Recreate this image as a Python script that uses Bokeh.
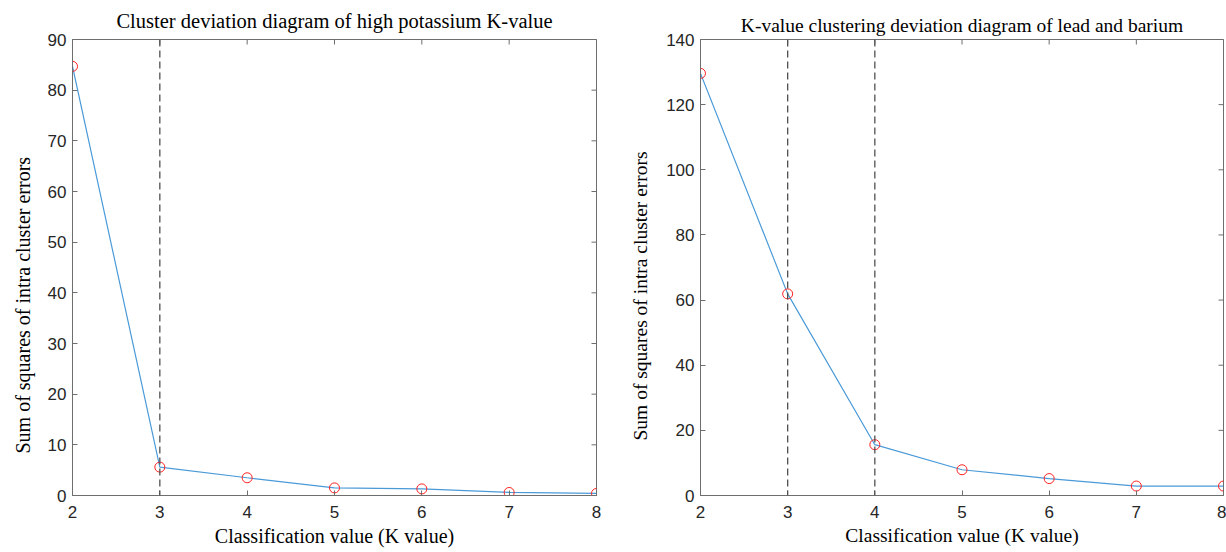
import math
from bokeh.plotting import figure
from bokeh.models import LinearAxis, Span, FixedTicker, Range1d, Title
from bokeh.layouts import row
from bokeh.embed import file_html
from bokeh.resources import INLINE

k_values = [2, 3, 4, 5, 6, 7, 8]
sse_potassium = [84.7, 5.6, 3.5, 1.5, 1.3, 0.6, 0.4]
sse_lead_barium = [129.6, 61.9, 15.6, 7.9, 5.2, 2.9, 2.9]
elbow_potassium = [3]
elbow_lead_barium = [3, 4]
x_ticks = [2, 3, 4, 5, 6, 7, 8]
y_ticks_potassium = [0, 10, 20, 30, 40, 50, 60, 70, 80, 90]
y_ticks_lead_barium = [0, 20, 40, 60, 80, 100, 120, 140]

title_potassium = "Cluster deviation diagram of high potassium K-value"
title_lead_barium = "K-value clustering deviation diagram of lead and barium"
x_label = "Classification value (K value)"
y_label = "Sum of squares of intra cluster errors"

SERIF = "Liberation Serif"
SANS = "Liberation Sans"
AXIS_COLOR = "#6e6e6e"
TEXT_COLOR = "#262626"


def make_panel(title, xs, ys, yticks, elbows, width, b_left, b_right,
               title_size, label_size, title_standoff, ylab_standoff, ylab_offset):
    p = figure(width=width, height=552, x_range=Range1d(x_ticks[0], x_ticks[-1]),
               y_range=Range1d(yticks[0], yticks[-1]),
               output_backend="svg", toolbar_location=None,
               min_border_left=b_left, min_border_right=b_right,
               min_border_top=38, min_border_bottom=57)
    p.xaxis.visible = False
    p.yaxis.visible = False
    p.grid.visible = False
    p.outline_line_color = AXIS_COLOR
    p.outline_line_width = 1
    p.background_fill_color = "white"
    p.border_fill_color = "white"

    p.title.text = title
    p.title.text_font = SERIF
    p.title.text_font_style = "normal"
    p.title.text_font_size = title_size
    p.title.text_color = "black"
    p.title.align = "center"
    p.title.standoff = title_standoff

    def style(ax, ticks):
        ax.ticker = FixedTicker(ticks=ticks)
        ax.axis_line_color = AXIS_COLOR
        ax.major_tick_line_color = AXIS_COLOR
        ax.major_tick_in = 5
        ax.major_tick_out = 0
        ax.minor_tick_line_color = None
        ax.major_label_text_font = SANS
        ax.major_label_text_font_size = "17px"
        ax.major_label_text_color = TEXT_COLOR
        ax.axis_label_text_font = SERIF
        ax.axis_label_text_font_style = "normal"
        ax.axis_label_text_font_size = label_size
        ax.axis_label_text_color = "black"

    xb = LinearAxis(axis_label=x_label, axis_label_standoff=4)
    style(xb, x_ticks)
    xb.major_label_standoff = 10
    p.add_layout(xb, "below")
    yl = LinearAxis()
    style(yl, yticks)
    yl.major_label_standoff = 6
    p.add_layout(yl, "left")

    # y-axis title, set a little below the middle of the axis and near the
    # outer edge, as in the reference
    p.add_layout(Title(text=y_label, align="left", offset=ylab_offset,
                       vertical_align="top", standoff=ylab_standoff,
                       text_font=SERIF, text_font_style="normal",
                       text_font_size=label_size, text_color="black"), "left")

    # mirrored inward ticks on the top and right edges of the box
    p.scatter(x_ticks, [yticks[-1]] * len(x_ticks), marker="dash", angle=math.pi / 2,
              size=10, line_color=AXIS_COLOR, line_width=1)
    p.scatter([x_ticks[-1]] * len(yticks), yticks, marker="dash",
              size=10, line_color=AXIS_COLOR, line_width=1)

    for e in elbows:
        p.add_layout(Span(location=e, dimension="height", line_color="#505050",
                          line_width=1.3, line_dash="7 4"))

    p.line(xs, ys, line_color="#4a9ad8", line_width=1.2)
    p.scatter(xs, ys, marker="circle", size=10, fill_color=None,
              line_color="#ff2020", line_width=1)
    return p


p1 = make_panel(title_potassium, k_values, sse_potassium, y_ticks_potassium,
                elbow_potassium, 618, 72, 22, "20.5px", "20px", 15, 18, 42)
p2 = make_panel(title_lead_barium, k_values, sse_lead_barium, y_ticks_lead_barium,
                elbow_lead_barium, 608, 82, 3, "19.5px", "19.5px", 8, 22, 55)

layout = row(p1, p2)
open("out.html", "w").write(file_html(layout, INLINE))
